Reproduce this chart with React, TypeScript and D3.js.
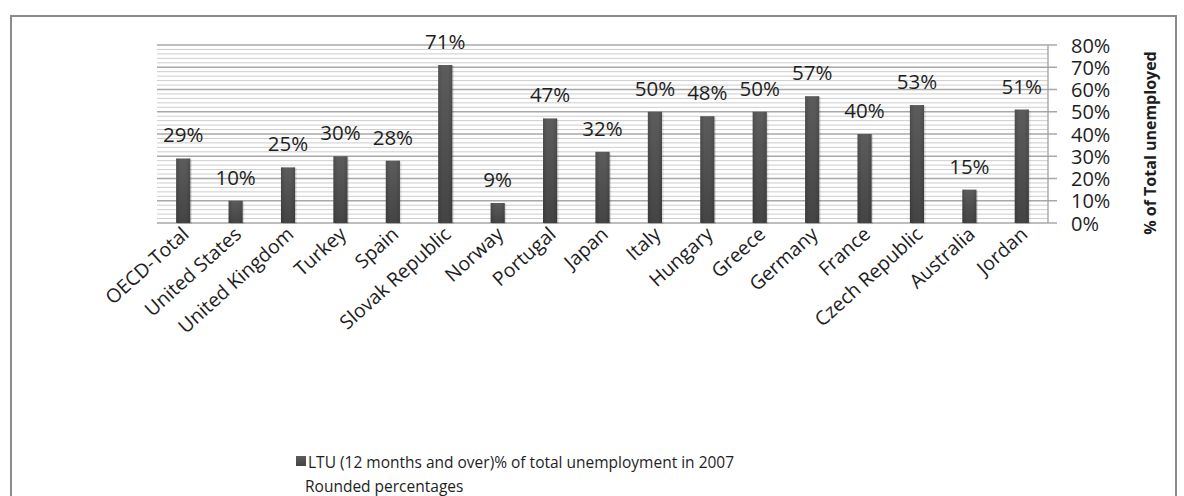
import React from "react";
import * as d3 from "d3";

const categories = [
  "OECD-Total", "United States", "United Kingdom", "Turkey", "Spain",
  "Slovak Republic", "Norway", "Portugal", "Japan", "Italy", "Hungary",
  "Greece", "Germany", "France", "Czech Republic", "Australia", "Jordan",
];
const values = [29, 10, 25, 30, 28, 71, 9, 47, 32, 50, 48, 50, 57, 40, 53, 15, 51];
const yTicks = [0, 10, 20, 30, 40, 50, 60, 70, 80];
const minorTicks = d3.range(0, 81, 2).filter((v) => v % 10 !== 0);
const legendLines = [
  "LTU (12 months and over)% of total unemployment in 2007",
  "Rounded percentages",
];
const axisTitle = "% of Total unemployed";

const W = 1184;
const H = 496;
const FONT = "'Open Sans', 'DejaVu Sans', sans-serif";

export default function App() {
  const x = d3.scaleBand<string>().domain(categories).range([157, 1048]).padding(0);
  const y = d3.scaleLinear().domain([0, 80]).range([223, 45]);
  const bw = x.bandwidth() * 0.27;
  const left = 157;
  const right = 1048;

  return (
    <svg
      width={W}
      height={H}
      style={{ position: "absolute", left: 0, top: 0, background: "#fff" }}
      fontFamily={FONT}
    >
      <defs>
        <linearGradient id="barGrad" x1="0" y1="0" x2="0" y2="1">
          <stop offset="0%" stopColor="#5c5c5c" />
          <stop offset="100%" stopColor="#444444" />
        </linearGradient>
        <linearGradient id="barGradH" x1="0" y1="0" x2="1" y2="0">
          <stop offset="0%" stopColor="#000" stopOpacity="0.15" />
          <stop offset="30%" stopColor="#000" stopOpacity="0" />
          <stop offset="70%" stopColor="#000" stopOpacity="0" />
          <stop offset="100%" stopColor="#000" stopOpacity="0.15" />
        </linearGradient>
      </defs>
      <rect x={0} y={0} width={W} height={H} fill="#fff" />
      {/* frame */}
      <rect x={11} y={16} width={1165} height={H + 20} fill="none" stroke="#8c8c8c" strokeWidth={2} />

      {/* minor grid */}
      {minorTicks.map((t) => (
        <line key={"m" + t} x1={left} x2={right} y1={y(t)} y2={y(t)} stroke="#cdcdcd" strokeWidth={1} />
      ))}
      {/* major grid */}
      {yTicks.map((t) => (
        <line key={"g" + t} x1={left} x2={right + 9} y1={y(t)} y2={y(t)} stroke="#a8a8a8" strokeWidth={1.3} />
      ))}
      {/* y axis line */}
      <line x1={right} x2={right} y1={y(80)} y2={y(0)} stroke="#a0a0a0" strokeWidth={1.3} />

      {/* bars */}
      {categories.map((c, i) => {
        const cx = (x(c) as number) + x.bandwidth() / 2;
        return (
          <g key={c}>
            <rect x={cx - bw / 2 + 1.5} y={y(values[i]) + 1} width={bw} height={y(0) - y(values[i])} fill="#000" opacity={0.12} />
            <rect x={cx - bw / 2} y={y(values[i])} width={bw} height={y(0) - y(values[i])} fill="url(#barGrad)" />
            <rect x={cx - bw / 2} y={y(values[i])} width={bw} height={y(0) - y(values[i])} fill="url(#barGradH)" />
          </g>
        );
      })}

      {/* data labels */}
      {categories.map((c, i) => {
        const cx = (x(c) as number) + x.bandwidth() / 2;
        return (
          <text key={"l" + c} x={cx} y={y(values[i]) - 24} textAnchor="middle" dominantBaseline="central" fontSize={20.5} fill="#1e1e1e">
            {values[i] + "%"}
          </text>
        );
      })}

      {/* y tick labels */}
      {yTicks.map((t) => (
        <text key={"t" + t} x={1071} y={y(t)} dominantBaseline="central" fontSize={20} fill="#1e1e1e">
          {t + "%"}
        </text>
      ))}

      {/* x labels */}
      {categories.map((c) => {
        const cx = (x(c) as number) + x.bandwidth() / 2 + 7;
        return (
          <text key={"x" + c} transform={`translate(${cx},${236}) rotate(-42)`} textAnchor="end" fontSize={19.5} fill="#1e1e1e">
            {c}
          </text>
        );
      })}

      {/* axis title */}
      <text transform={`translate(1150,${143}) rotate(-90)`} textAnchor="middle" dominantBaseline="central" fontSize={16} fontWeight="bold" fill="#1e1e1e">
        {axisTitle}
      </text>

      {/* legend */}
      <rect x={296} y={456} width={10} height={10} fill="url(#barGrad)" />
      <text x={308} y={462} dominantBaseline="central" fontSize={15.5} fill="#1e1e1e">{legendLines[0]}</text>
      <text x={305} y={486} dominantBaseline="central" fontSize={15.5} fill="#1e1e1e">{legendLines[1]}</text>
    </svg>
  );
}
